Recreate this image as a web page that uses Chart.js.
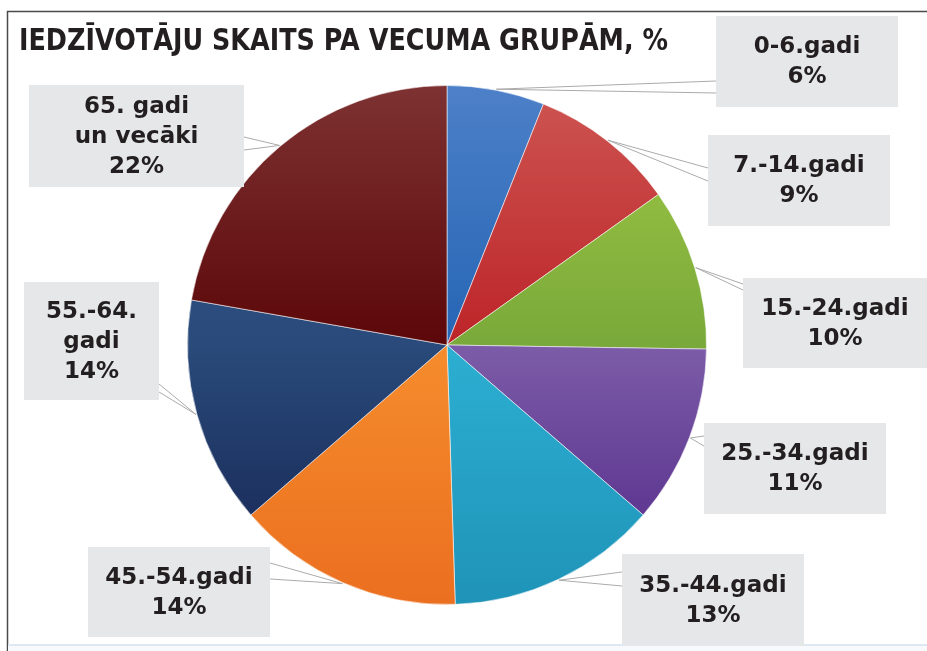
<!DOCTYPE html>
<html lang="lv">
<head>
<meta charset="utf-8">
<title>Iedzīvotāju skaits pa vecuma grupām</title>
<script src="https://cdn.jsdelivr.net/npm/chart.js@4.4.1/dist/chart.umd.min.js"></script>
<style>
  html, body { margin: 0; padding: 0; background: #fff; overflow: hidden; }
  canvas { display: block; }
</style>
</head>
<body>
<canvas id="pie" width="927" height="651"></canvas>
<script>
// ---- dati ----
const title = 'IEDZĪVOTĀJU SKAITS PA VECUMA GRUPĀM, %';
const groups = [['0-6.gadi'], ['7.-14.gadi'], ['15.-24.gadi'], ['25.-34.gadi'],
                ['35.-44.gadi'], ['45.-54.gadi'], ['55.-64.', 'gadi'], ['65. gadi', 'un vecāki']];
const shares = [6, 9, 10, 11, 13, 14, 14, 22];

// krāsas: augša / vidus / apakša (gradients pa visu apli)
const shades = [
    ['#4d80c8', '#2565b4', '#1d5aa6'],
    ['#cd5652', '#bd2428', '#b01e22'],
    ['#a2c946', '#79a93a', '#6a9a33'],
    ['#9a80c0', '#7c5ca8', '#4f2585'],
    ['#40bde0', '#2cafd2', '#1f93b8'],
    ['#f89a38', '#f58c2c', '#eb6f20'],
    ['#365a8a', '#294a7a', '#15224f'],
    ['#7e3232', '#5c0709', '#500005']
];

// etiķešu kastes: x, y, w, h, puse, līniju gali
const boxes = [
    { x: 716, y: 16,  w: 182, h: 91,  side: 'left',  ends: [81, 93] },
    { x: 708, y: 135, w: 182, h: 91,  side: 'left',  ends: [168, 181] },
    { x: 743, y: 278, w: 184, h: 90,  side: 'left',  ends: [284, 290] },
    { x: 704, y: 423, w: 182, h: 91,  side: 'left',  ends: [436, 446] },
    { x: 622, y: 554, w: 182, h: 92,  side: 'left',  ends: [572, 586] },
    { x: 88,  y: 547, w: 182, h: 90,  side: 'right', ends: [563, 579] },
    { x: 24,  y: 282, w: 135, h: 118, side: 'right', ends: [384, 392] },
    { x: 29,  y: 85,  w: 215, h: 102, side: 'right', ends: [137, 150] }
];

function sliceFill(c) {
    const area = c.chart.chartArea;
    const s = shades[c.dataIndex];
    if (!area) return s[1];
    const g = c.chart.ctx.createLinearGradient(0, area.top, 0, area.bottom);
    g.addColorStop(0, s[0]);
    g.addColorStop(0.5, s[1]);
    g.addColorStop(1, s[2]);
    return g;
}

const decor = {
    id: 'decor',
    beforeDraw(chart) {
        const ctx = chart.ctx;
        ctx.save();
        // rāmis
        ctx.strokeStyle = '#4a4a4a';
        ctx.lineWidth = 1.5;
        ctx.beginPath();
        ctx.moveTo(927, 11.5);
        ctx.lineTo(7.5, 11.5);
        ctx.lineTo(7.5, 651);
        ctx.stroke();
        ctx.fillStyle = '#dde8f3';
        ctx.fillRect(8, 644, 919, 2);
        ctx.fillStyle = '#f7f9fc';
        ctx.fillRect(8, 646, 919, 5);
        // virsraksts
        ctx.fillStyle = '#231f20';
        ctx.font = 'bold 30px "DejaVu Sans"';
        ctx.textBaseline = 'alphabetic';
        ctx.textAlign = 'left';
        ctx.fillText(title, 19, 50, 649);
        ctx.restore();
    },
    afterDatasetsDraw(chart) {
        const ctx = chart.ctx;
        const meta = chart.getDatasetMeta(0);
        ctx.save();
        // līnijas
        ctx.strokeStyle = '#ababab';
        ctx.lineWidth = 1;
        meta.data.forEach((arc, i) => {
            const p = arc.getProps(['x', 'y', 'startAngle', 'endAngle', 'outerRadius'], true);
            const mid = (p.startAngle + p.endAngle) / 2;
            const px = p.x + Math.cos(mid) * (p.outerRadius + 1);
            const py = p.y + Math.sin(mid) * (p.outerRadius + 1);
            const b = boxes[i];
            const ex = b.side === 'left' ? b.x : b.x + b.w;
            b.ends.forEach(ey => {
                ctx.beginPath();
                ctx.moveTo(px, py);
                ctx.lineTo(ex, ey);
                ctx.stroke();
            });
        });
        // kastes un teksts
        ctx.font = 'bold 23px "DejaVu Sans"';
        ctx.textAlign = 'center';
        ctx.textBaseline = 'middle';
        const lineH = 30;
        groups.forEach((name, i) => {
            const b = boxes[i];
            ctx.fillStyle = '#e6e7e8';
            ctx.fillRect(b.x, b.y, b.w, b.h);
            const lines = name.concat([shares[i] + '%']);
            const cx = b.x + b.w / 2;
            const cy = b.y + b.h / 2;
            ctx.fillStyle = '#231f20';
            lines.forEach((t, k) => {
                ctx.fillText(t, cx, cy + (k - (lines.length - 1) / 2) * lineH + 1);
            });
        });
        ctx.restore();
    }
};

new Chart(document.getElementById('pie'), {
    type: 'pie',
    data: {
        labels: groups.map(g => g.join(' ')),
        datasets: [{
            data: shares,
            backgroundColor: sliceFill,
            borderColor: 'rgba(255,255,255,0.55)',
            borderWidth: 1
        }]
    },
    options: {
        responsive: false,
        animation: false,
        devicePixelRatio: 1,
        layout: { padding: { left: 187, right: 220, top: 85, bottom: 46 } },
        plugins: { legend: { display: false }, tooltip: { enabled: false } }
    },
    plugins: [decor]
});
</script>
</body>
</html>
